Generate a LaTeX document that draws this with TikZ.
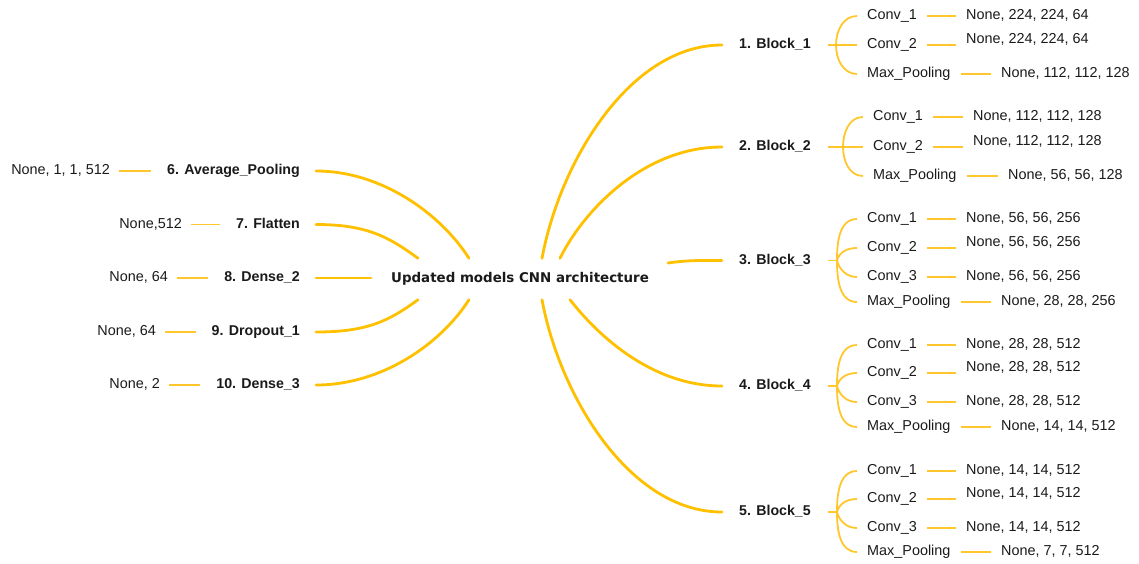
\documentclass[tikz,border=0pt]{standalone}
\usepackage{fontspec}
\setmainfont{Liberation Sans}
\newfontfamily\cfont{DejaVu Sans}
\usetikzlibrary{calc}
\definecolor{gold}{HTML}{FFC000}
\definecolor{goldl}{HTML}{FFC72C}
\definecolor{ink}{HTML}{1A1A1A}
\tikzset{
  trunk/.style={draw=gold, line width=2.8pt, line cap=round},
  twig/.style={draw=goldl, line width=1.8pt},
  base/.style={text=ink, inner ysep=0pt, text height=10.3pt, text depth=3pt},
  blk/.style={base, font=\bfseries\fontsize{14.2}{16}\selectfont, inner xsep=17pt, anchor=west},
  lft/.style={base, font=\bfseries\fontsize{14.2}{16}\selectfont, inner xsep=16pt, anchor=east},
  sub/.style={base, font=\fontsize{14.4}{16}\selectfont, inner xsep=10pt, anchor=west},
  val/.style={base, font=\fontsize{14.4}{16}\selectfont, inner xsep=10pt, anchor=west},
  lval/.style={base, font=\fontsize{14.4}{16}\selectfont, inner xsep=9pt, anchor=east},
  hub/.style={text=ink, font=\cfont\bfseries\fontsize{13.4}{15}\selectfont, minimum height=41pt, inner sep=0pt}
}
\begin{document}
\begin{tikzpicture}[x=1pt,y=1pt]
\useasboundingbox (0,0) rectangle (1139,-563);

% centre
\node[hub] (c) at (520,-279) {Updated models CNN architecture};

% ---------- right blocks ----------
\node[blk] (b1) at (722,-45) {1. Block\_1};
\node[blk] (b2) at (722,-147) {2. Block\_2};
\node[blk] (b3) at (722,-260.5) {3. Block\_3};
\node[blk] (b4) at (722,-386) {4. Block\_4};
\node[blk] (b5) at (722,-512) {5. Block\_5};

% ---------- left items ----------
\node[lft] (l6) at (316,-171) {6. Average\_Pooling};
\node[lft] (l7) at (316,-224.5) {7. Flatten};
\node[lft] (l8) at (316,-278) {8. Dense\_2};
\node[lft] (l9) at (316,-332) {9. Dropout\_1};
\node[lft] (l10) at (316,-385) {10. Dense\_3};

\node[lval] (v6) at (119,-171) {None, 1, 1, 512};
\node[lval] (v7) at (191,-224.5) {None,512};
\node[lval] (v8) at (177,-278) {None, 64};
\node[lval] (v9) at (165,-332) {None, 64};
\node[lval] (v10) at (169,-385) {None, 2};

\foreach \a/\b in {l6/v6,l7/v7,l8/v8,l9/v9,l10/v10}
  \draw[twig] (\a.west) -- (\b.east);

% main connectors
\draw[trunk] ($(c.north)+(22,0)$) .. controls +(18,97) and +(-92,0) .. (b1.west);
\draw[trunk] ($(c.north)+(40,0)$) .. controls +(22,45) and +(-80,0) .. (b2.west);
\draw[trunk] ($(c.center)+(148,16)$) .. controls +(20,3) and +(-20,0) .. (b3.west);
\draw[trunk] ($(c.south)+(50,0)$) .. controls +(28,-36) and +(-70,0) .. (b4.west);
\draw[trunk] ($(c.south)+(22,0)$) .. controls +(18,-97) and +(-92,0) .. (b5.west);

\draw[trunk] ($(c.north)+(-51,0)$) .. controls +(-28,44) and +(66,0) .. (l6.east);
\draw[trunk] ($(c.north)+(-102,0)$) .. controls +(-30,22) and +(50,0) .. (l7.east);
\draw[trunk] ($(c.center)+(-149,1)$) -- (l8.east);
\draw[trunk] ($(c.south)+(-102,0)$) .. controls +(-30,-22) and +(50,0) .. (l9.east);
\draw[trunk] ($(c.south)+(-51,0)$) .. controls +(-28,-44) and +(66,0) .. (l10.east);

% ---------- Block 1 ----------
\coordinate (j1) at (836,-45);
\node[sub] (c11) at (857,-16) {Conv\_1};
\node[sub] (c12) at (857,-45) {Conv\_2};
\node[sub] (c13) at (857,-74) {Max\_Pooling};
\node[val] (v11) at (956,-16) {None, 224, 224, 64};
\node[val] (v12) at (956,-40) {None, 224, 224, 64};
\node[val] (v13) at (991,-74) {None, 112, 112, 128};
\draw[twig] (b1.east) -- (c12.west);
\draw[twig] (c11.west) to[out=180,in=90] (j1) to[out=-90,in=180] (c13.west);
\draw[twig] (c11.east) -- (v11.west);
\draw[twig] (c12.east) -- (v12.west |- c12.east);
\draw[twig] (c13.east) -- (v13.west);

% ---------- Block 2 ----------
\coordinate (j2) at (843,-147);
\node[sub] (c21) at (863,-117) {Conv\_1};
\node[sub] (c22) at (863,-147) {Conv\_2};
\node[sub] (c23) at (863,-176) {Max\_Pooling};
\node[val] (v21) at (963,-117) {None, 112, 112, 128};
\node[val] (v22) at (963,-141.5) {None, 112, 112, 128};
\node[val] (v23) at (998,-176) {None, 56, 56, 128};
\draw[twig] (b2.east) -- (c22.west);
\draw[twig] (c21.west) to[out=180,in=90] (j2) to[out=-90,in=180] (c23.west);
\draw[twig] (c21.east) -- (v21.west);
\draw[twig] (c22.east) -- (v22.west |- c22.east);
\draw[twig] (c23.east) -- (v23.west);

% ---------- Block 3 ----------
\coordinate (j3) at (837,-260.5);
\node[sub] (c31) at (857,-219) {Conv\_1};
\node[sub] (c32) at (857,-248) {Conv\_2};
\node[sub] (c33) at (857,-277) {Conv\_3};
\node[sub] (c34) at (857,-302) {Max\_Pooling};
\node[val] (v31) at (956,-219) {None, 56, 56, 256};
\node[val] (v32) at (956,-243) {None, 56, 56, 256};
\node[val] (v33) at (956,-277) {None, 56, 56, 256};
\node[val] (v34) at (991,-302) {None, 28, 28, 256};
\draw[twig] (b3.east) -- (j3);
\draw[twig] (c31.west) to[out=180,in=90] (j3) to[out=-90,in=180] (c34.west);
\draw[twig] (j3) to[out=75,in=180] (c32.west);
\draw[twig] (j3) to[out=-75,in=180] (c33.west);
\draw[twig] (c31.east) -- (v31.west);
\draw[twig] (c32.east) -- (v32.west |- c32.east);
\draw[twig] (c33.east) -- (v33.west);
\draw[twig] (c34.east) -- (v34.west);

% ---------- Block 4 ----------
\coordinate (j4) at (837,-386);
\node[sub] (c41) at (857,-345) {Conv\_1};
\node[sub] (c42) at (857,-373) {Conv\_2};
\node[sub] (c43) at (857,-402) {Conv\_3};
\node[sub] (c44) at (857,-427) {Max\_Pooling};
\node[val] (v41) at (956,-345) {None, 28, 28, 512};
\node[val] (v42) at (956,-368) {None, 28, 28, 512};
\node[val] (v43) at (956,-402) {None, 28, 28, 512};
\node[val] (v44) at (991,-427) {None, 14, 14, 512};
\draw[twig] (b4.east) -- (j4);
\draw[twig] (c41.west) to[out=180,in=90] (j4) to[out=-90,in=180] (c44.west);
\draw[twig] (j4) to[out=75,in=180] (c42.west);
\draw[twig] (j4) to[out=-75,in=180] (c43.west);
\draw[twig] (c41.east) -- (v41.west);
\draw[twig] (c42.east) -- (v42.west |- c42.east);
\draw[twig] (c43.east) -- (v43.west);
\draw[twig] (c44.east) -- (v44.west);

% ---------- Block 5 ----------
\coordinate (j5) at (837,-512);
\node[sub] (c51) at (857,-471) {Conv\_1};
\node[sub] (c52) at (857,-499) {Conv\_2};
\node[sub] (c53) at (857,-528) {Conv\_3};
\node[sub] (c54) at (857,-552) {Max\_Pooling};
\node[val] (v51) at (956,-471) {None, 14, 14, 512};
\node[val] (v52) at (956,-494) {None, 14, 14, 512};
\node[val] (v53) at (956,-528) {None, 14, 14, 512};
\node[val] (v54) at (991,-552) {None, 7, 7, 512};
\draw[twig] (b5.east) -- (j5);
\draw[twig] (c51.west) to[out=180,in=90] (j5) to[out=-90,in=180] (c54.west);
\draw[twig] (j5) to[out=75,in=180] (c52.west);
\draw[twig] (j5) to[out=-75,in=180] (c53.west);
\draw[twig] (c51.east) -- (v51.west);
\draw[twig] (c52.east) -- (v52.west |- c52.east);
\draw[twig] (c53.east) -- (v53.west);
\draw[twig] (c54.east) -- (v54.west);
\end{tikzpicture}
\end{document}
